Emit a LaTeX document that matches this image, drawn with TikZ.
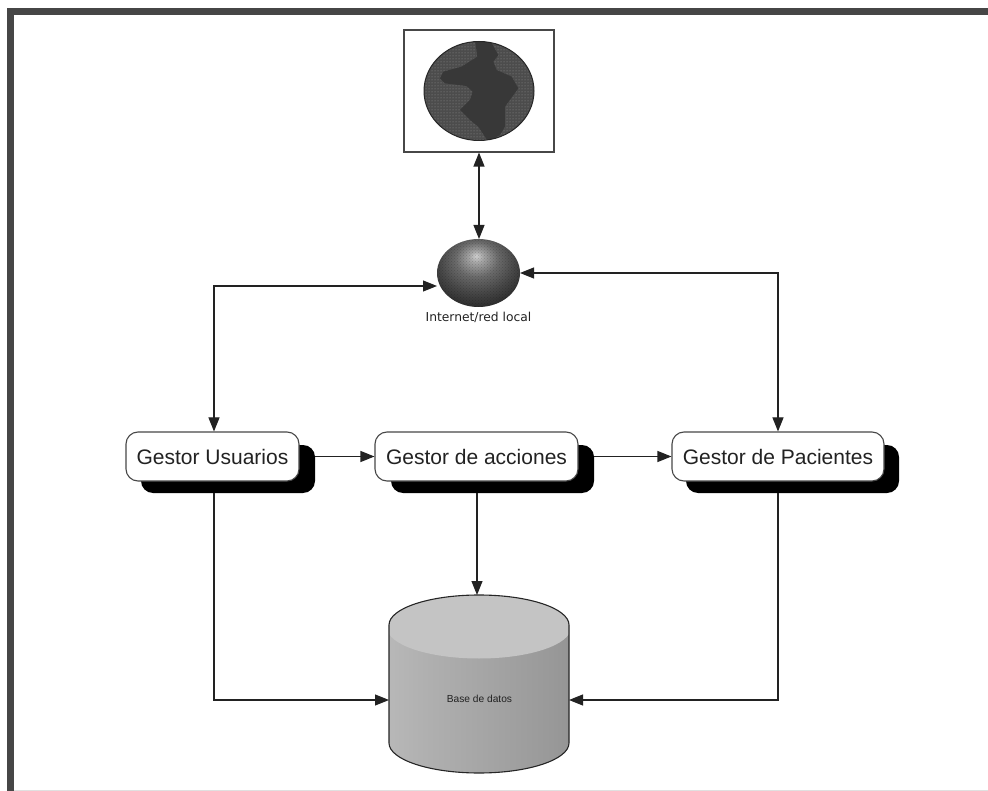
\documentclass[tikz,border=0pt]{standalone}
\usepackage{fontspec}
\setmainfont{Liberation Sans}
\newfontfamily\labelfont{DejaVu Sans}
\usetikzlibrary{arrows.meta,patterns}
\pgfdeclareradialshading{sphereshade}{\pgfpoint{-0.05cm}{0.45cm}}{%
  color(0cm)=(black!18);color(0.15cm)=(black!35);color(0.45cm)=(black!58);color(0.8cm)=(black!72);color(1.2cm)=(black!86);color(1.6cm)=(black!80);color(2.2cm)=(black!72)}
\pgfdeclarehorizontalshading{cylside}{100bp}{color(0bp)=(black!28);color(25bp)=(black!28);color(35bp)=(black!31);color(70bp)=(black!40);color(100bp)=(black!50)}
\definecolor{frameC}{HTML}{464646}
\definecolor{inkC}{HTML}{222222}
\tikzset{
  gestor/.style={draw=black!72,line width=1.1pt,fill=white,rounded corners=12pt,minimum height=49pt,inner sep=0pt,font=\fontsize{21}{24}\selectfont,text=inkC},
  gshadow/.style={fill=black,rounded corners=12pt,minimum height=48pt,inner sep=0pt},
  conn/.style={draw=inkC,line width=1.1pt,-{Triangle[length=14pt,width=11pt]}},
  conn2/.style={draw=inkC,line width=1.1pt,{Triangle[length=14pt,width=11pt]}-{Triangle[length=14pt,width=11pt]}},
}
\begin{document}
\begin{tikzpicture}[x=1pt,y=-1pt]
\useasboundingbox (0,0) rectangle (988,791);
\fill[white] (0,0) rectangle (988,791);
% page frame
\fill[frameC] (7,8) rectangle (988,15);
\fill[frameC] (7,8) rectangle (14,791);
\fill[black!12] (14,789.5) rectangle (988,791);
% world box
\node[draw=black!72,line width=1.1pt,fill=white,minimum width=150pt,minimum height=122pt,inner sep=0pt] (world) at (479,91) {};
\fill[black!70] (479,91) ellipse [x radius=55,y radius=49.5];
\fill[pattern=dots,pattern color=black!42] (479,91) ellipse [x radius=55,y radius=49.5];
\begin{scope}
\clip (479,91) ellipse [x radius=55,y radius=49.5];
\begin{scope}[shift={(390,20)},x=0.3333pt,y=-0.3333pt]
\fill[black!78] (255,60) -- (262,110) -- (215,140) -- (160,155) -- (150,175) -- (165,190) -- (230,198) -- (248,215) -- (240,240) -- (210,270) -- (240,300) -- (265,320) -- (295,365) -- (330,345) -- (345,320) -- (345,260) -- (385,205) -- (365,170) -- (320,150) -- (310,125) -- (325,105) -- (300,60) -- cycle;
\end{scope}
\end{scope}
\draw[black!85,line width=1pt] (479,91) ellipse [x radius=55,y radius=49.5];
% sphere
\coordinate (net) at (478.5,273);
\shade[shading=sphereshade] (net) ellipse [x radius=41.5,y radius=34];
\fill[pattern=crosshatch dots,pattern color=black,opacity=.18] (net) ellipse [x radius=41.5,y radius=34];
\node[inner sep=0pt,font=\labelfont\fontsize{12.3}{14}\selectfont,text=inkC] (netlabel) at (478.5,317.5) {Internet/red local};
\coordinate (netL) at (437,286);
\coordinate (netR) at (520,273);
\coordinate (netT) at (479,239);
% shadows
\node[gshadow,minimum width=174pt] (ushadow) at (228,469) {};
\node[gshadow,minimum width=203pt] (ashadow) at (492.5,469) {};
\node[gshadow,minimum width=213pt] (pshadow) at (792.5,469) {};
% manager boxes
\node[gestor,minimum width=173pt] (usuarios) at (212.5,456.5) {Gestor Usuarios};
\node[gestor,minimum width=203pt] (acciones) at (476.5,456.5) {Gestor de acciones};
\node[gestor,minimum width=212pt] (pacientes) at (778,456.5) {Gestor de Pacientes};
% cylinder
\shade[shading=cylside] (389,625) -- (389,743) arc[start angle=180,end angle=0,x radius=90,y radius=30] -- (569,625) arc[start angle=0,end angle=180,x radius=90,y radius=30] -- cycle;
\begin{scope}
\clip (389,595) rectangle (569,700);
\fill[black!23] (479,627.5) ellipse [x radius=92,y radius=31];
\fill[black!23] (389,625) arc[start angle=180,end angle=360,x radius=90,y radius=30] -- cycle;
\end{scope}
\draw[black!85,line width=1.1pt] (389,743) -- (389,625) arc[start angle=180,end angle=360,x radius=90,y radius=30] -- (569,743) arc[start angle=0,end angle=180,x radius=90,y radius=30];
\coordinate (dbT) at (477,595);
\coordinate (dbL) at (389,700);
\coordinate (dbR) at (569,700);
\node[inner sep=0pt,font=\fontsize{10.2}{12}\selectfont,text=inkC] (db) at (479.5,699) {Base de datos};
% connector routing columns
\coordinate (ucol) at (214,700);
\coordinate (pcol) at (778,700);
% connectors
\draw[conn2] (world.south -| netT) -- (netT);
\draw[conn2] (usuarios.north -| ucol) -- (ucol |- netL) -- (netL);
\draw[conn2] (pacientes.north -| pcol) -- (pcol |- netR) -- (netR);
\draw[conn] (usuarios.east -| ushadow.east) -- (acciones.west);
\draw[conn] (acciones.east -| ashadow.east) -- (pacientes.west);
\draw[conn] (ashadow.south -| dbT) -- (dbT);
\draw[conn] (ushadow.south -| ucol) -- (ucol) -- (dbL);
\draw[conn] (pshadow.south -| pcol) -- (pcol) -- (dbR);
\end{tikzpicture}
\end{document}
